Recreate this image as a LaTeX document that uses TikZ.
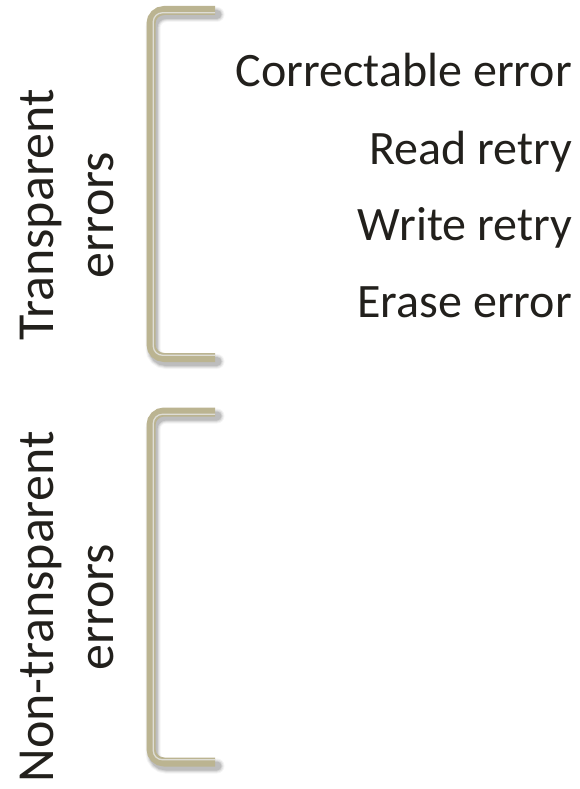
\documentclass[tikz,border=0pt]{standalone}
\usepackage{fontspec}
\setmainfont{Carlito}
\definecolor{brk}{RGB}{187,180,145}
\definecolor{brkhi}{RGB}{222,221,214}
\definecolor{ink}{RGB}{34,32,28}
\begin{document}
\begin{tikzpicture}[x=1pt,y=-1pt,
  bracket/.style={draw=brk,line width=9pt,rounded corners=13pt,line cap=butt},
  brackethi/.style={draw=brkhi,line width=1.3pt,rounded corners=9pt},
  item/.style={anchor=base east,font=\fontsize{48}{58}\selectfont,text=ink,inner sep=0pt},
  side/.style={rotate=90,align=center,font=\fontsize{52}{60}\selectfont,text=ink,inner sep=0pt}]
\useasboundingbox (0,0) rectangle (579,789);
\fill[white] (0,0) rectangle (579,789);

% bracket corners
\coordinate (t1) at (215,10.5);
\coordinate (c1) at (151,10.5);
\coordinate (d1) at (151,357.5);
\coordinate (b1) at (215,357.5);
\coordinate (t2) at (215,412);
\coordinate (c2) at (151,412);
\coordinate (d2) at (151,762);
\coordinate (b2) at (215,762);

% soft shadows under the brackets
\foreach \s/\o in {6/0.04,4/0.06,2/0.08,0/0.10}{
  \draw[draw=black,opacity=\o,line width=9pt+\s pt,rounded corners=13pt,line cap=round]
    ([shift={(2,4)}]t1) -- ([shift={(2,4)}]c1) -- ([shift={(2,4)}]d1) -- ([shift={(2,4)}]b1);
  \draw[draw=black,opacity=\o,line width=9pt+\s pt,rounded corners=13pt,line cap=round]
    ([shift={(2,4)}]t2) -- ([shift={(2,4)}]c2) -- ([shift={(2,4)}]d2) -- ([shift={(2,4)}]b2);
}

% bracket bodies
\draw[bracket] (t1) -- (c1) -- (d1) -- (b1);
\draw[bracket] (t2) -- (c2) -- (d2) -- (b2);

% highlight stripe along the inner edge
\draw[brackethi] ([shift={(0,2.3)}]t1) -- ([shift={(2.3,2.3)}]c1) -- ([shift={(2.3,-2.3)}]d1) -- ([shift={(0,-2.3)}]b1);
\draw[brackethi] ([shift={(0,2.3)}]t2) -- ([shift={(2.3,2.3)}]c2) -- ([shift={(2.3,-2.3)}]d2) -- ([shift={(0,-2.3)}]b2);

% group labels
\node[side] (g1) at (67,215) {Transparent\\errors};
\node[side] (g2) at (67,607) {Non-transparent\\errors};

% transparent error kinds
\node[item] (e1) at (572,87) {Correctable error};
\node[item] (e2) at (572,164) {Read retry};
\node[item] (e3) at (572,240) {Write retry};
\node[item] (e4) at (572,317) {Erase error};
\end{tikzpicture}
\end{document}
